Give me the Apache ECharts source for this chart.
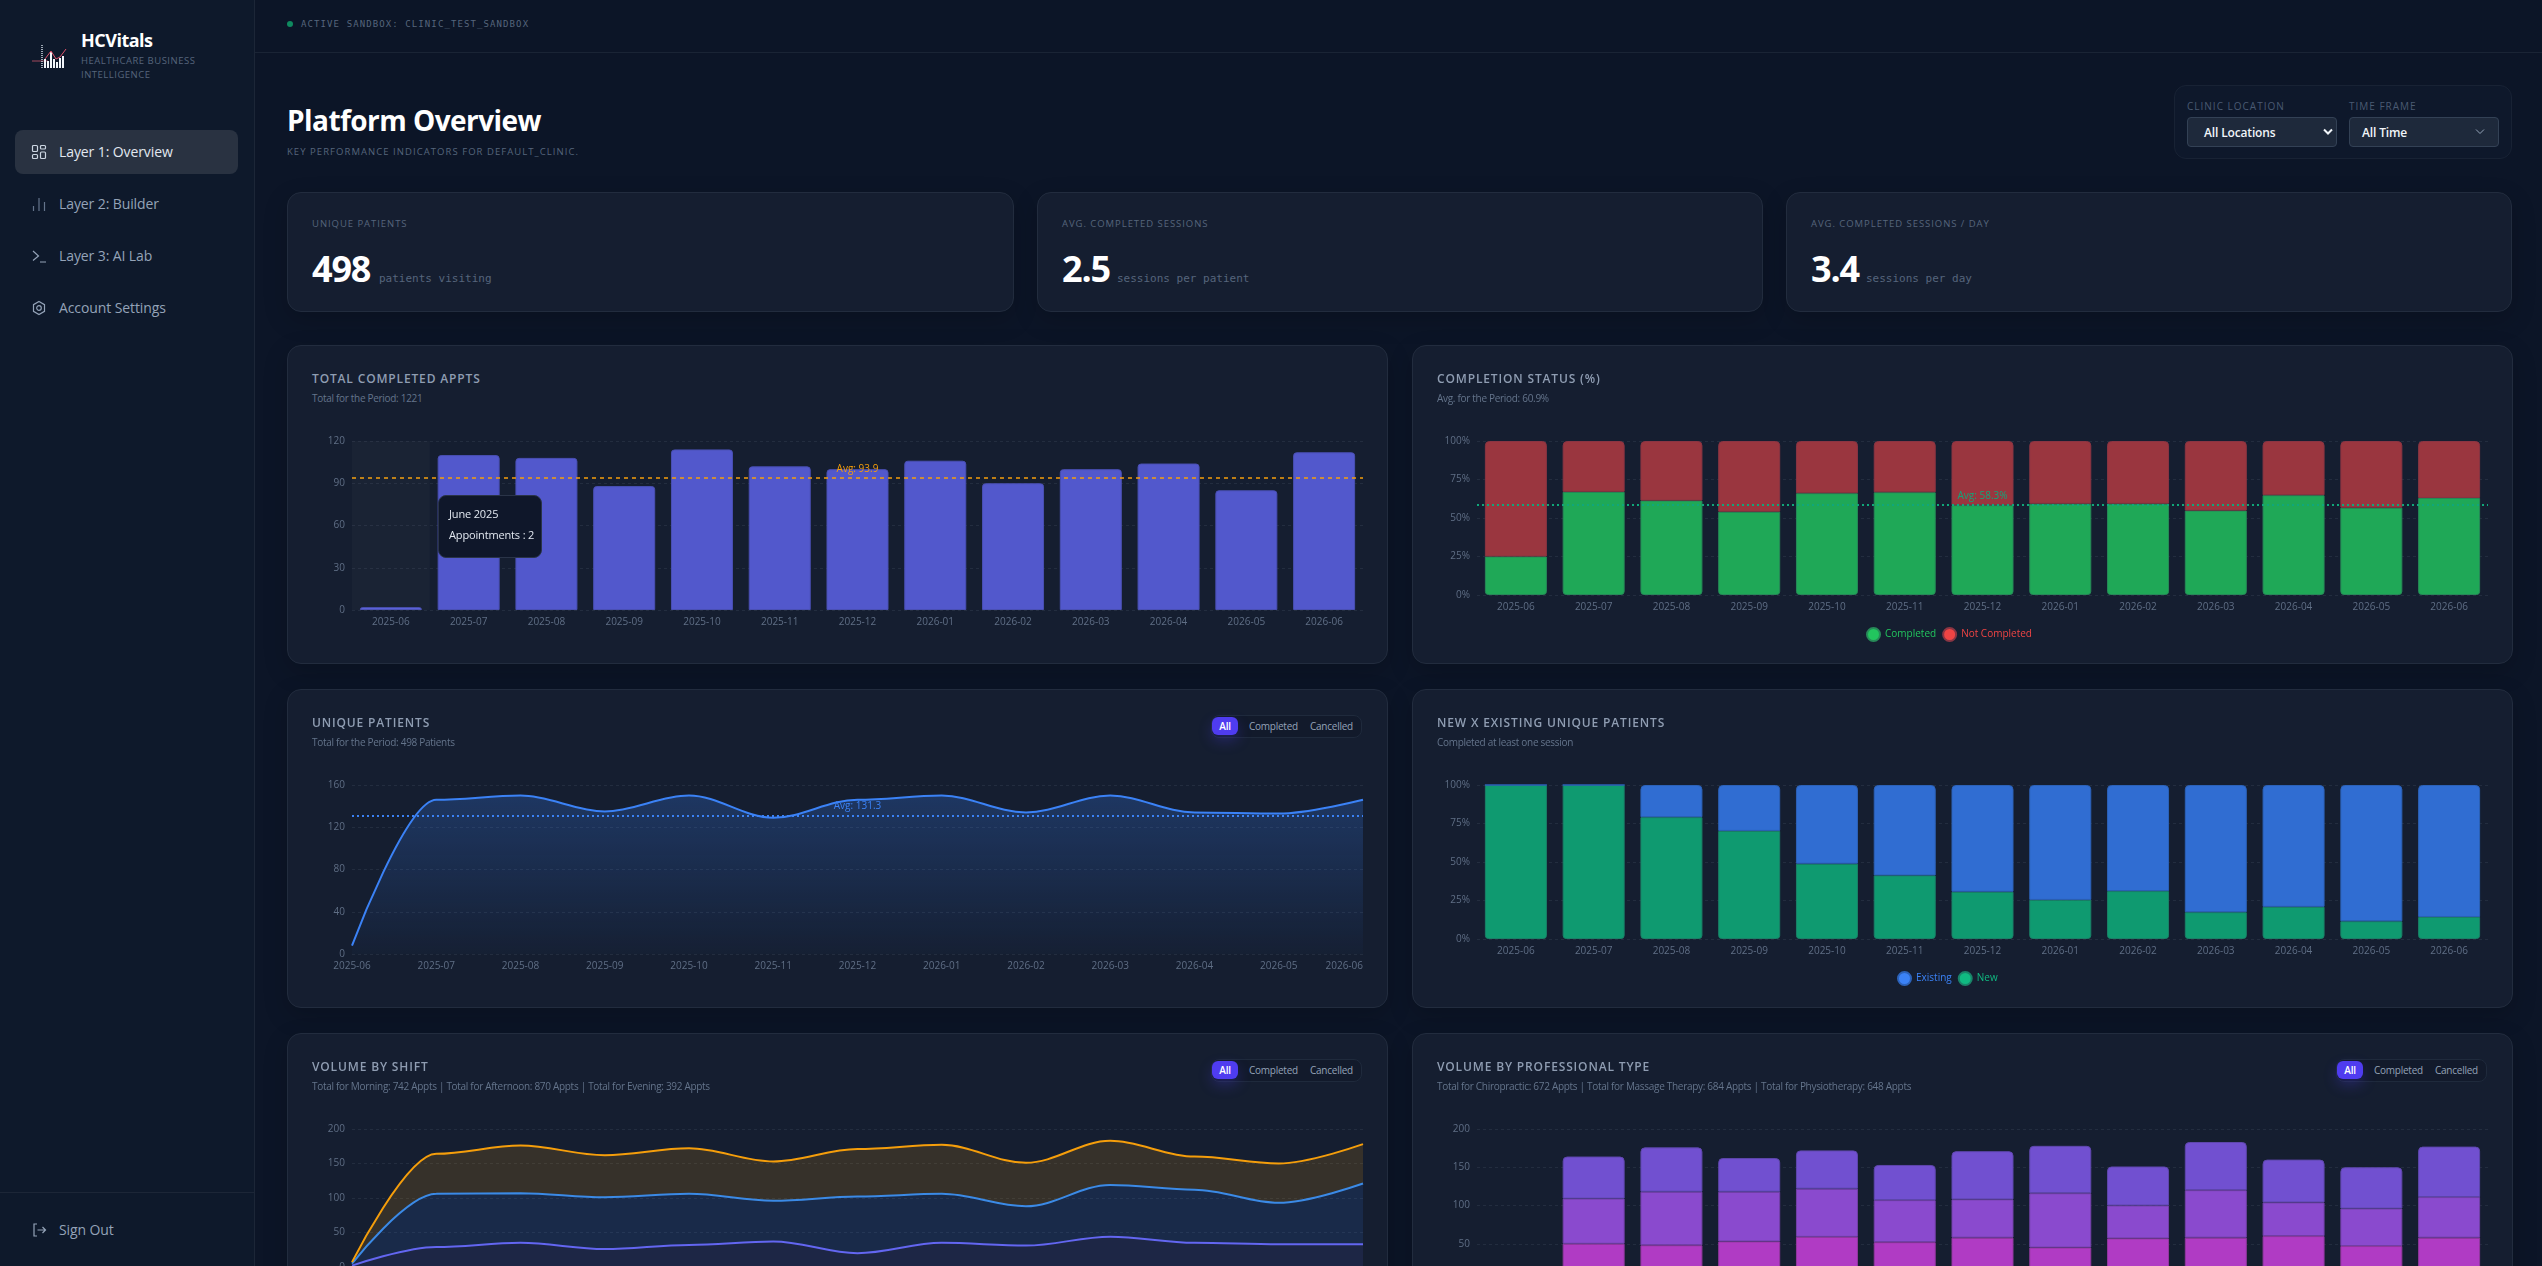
<!DOCTYPE html>
<html>
<head>
<meta charset="utf-8">
<title>HCVitals</title>
<script src="https://cdn.jsdelivr.net/npm/echarts@6/dist/echarts.min.js"></script>
<style>
  html, body { margin: 0; height: 100%; overflow: hidden; background: #0c1527; font-family: "Open Sans", sans-serif; }
  .abs { position: absolute; white-space: nowrap; }
  .mono { font-family: "DejaVu Sans Mono", monospace; }
  #page { position: relative; width: 2542px; height: 1266px; overflow: hidden; }
  #sidebar { position: absolute; left: 0; top: 0; width: 254px; height: 1266px; background: #0e192b; border-right: 1px solid #1c2637; }
  #topbar { position: absolute; left: 255px; right: 0; top: 0; height: 52px; border-bottom: 1px solid #1a2435; }
  .nav { position: absolute; left: 15px; width: 223px; height: 44px; border-radius: 8px; font-size: 14px; line-height: 44px; color: #94a3b8; letter-spacing: -.1px; }
  .nav.active { background: #293241; color: #e2e8f0; }
  .nav span { position: absolute; left: 44px; }
  .nav svg { position: absolute; left: 16px; top: 14px; }
  .kpi { position: absolute; top: 192px; height: 118px; background: #151e30; border: 1px solid #222c3e; border-radius: 14px; box-shadow: 0 8px 24px rgba(0,0,0,.18); }
  .kpi .lbl { position: absolute; left: 24px; top: 24px; font-size: 9.5px; line-height: 14px; letter-spacing: .95px; color: #56657c; white-space: nowrap; }
  .kpi .num { position: absolute; left: 24px; top: 51px; font-size: 36px; font-weight: 700; color: #fff; line-height: 50px; letter-spacing: -1.2px; }
  .kpi .unit { position: absolute; top: 79px; font-size: 11px; line-height: 14px; color: #56657c; white-space: nowrap; }
  .card { position: absolute; width: 1099px; height: 317px; background: #151e30; border: 1px solid #222c3e; border-radius: 14px; box-shadow: 0 8px 24px rgba(0,0,0,.18); }
  .card h3 { position: absolute; left: 24px; top: 24px; margin: 0; font-size: 12px; font-weight: 600; letter-spacing: .85px; color: #8f9db2; white-space: nowrap; line-height: 18px; }
  .card p { position: absolute; left: 24px; top: 45px; margin: 0; font-size: 10px; letter-spacing: -.3px; color: #64748b; white-space: nowrap; line-height: 14px; }
  .chart { position: absolute; left: 0; top: 0; width: 1099px; height: 317px; }
  .toggle { position: absolute; right: 25px; top: 25px; width: 149px; height: 21px; border: 1px solid #1f2a3c; background: #121a2b; border-radius: 8px; font-size: 10px; letter-spacing: -.25px; color: #94a3b8; line-height: 21px; z-index: 3; }
  .toggle b { position: absolute; left: 0; top: 1px; width: 26px; height: 18px; line-height: 18px; border-radius: 6px; background: #4f3cf0; color: #fff; text-align: center; font-weight: 600; box-shadow: 0 6px 14px rgba(79,60,240,.28); }
  .toggle i { position: absolute; font-style: normal; top: 0; }
  .sel { position: absolute; top: 117px; width: 148px; height: 28px; background: #1e293b; border: 1px solid #334155; border-radius: 4px; font-size: 12px; font-weight: 600; letter-spacing: -.15px; color: #f1f5f9; line-height: 30px; }
</style>
</head>
<body>
<div id="page">
  <div id="sidebar">
    <svg class="abs" style="left:32px;top:44px" width="36" height="26" viewBox="0 0 36 26">
      <path d="M0 17H16" stroke="#a1485c" stroke-width="1"/>
      <path d="M10 1V24" stroke="#cbd5e1" stroke-width="1.5" stroke-dasharray="1 1"/>
      <path d="M13 24V15M16 24V17M19 24V8M22 24V15M25 24V18M28 24V14M31 24V12" stroke="#f1f5f9" stroke-width="2"/>
      <path d="M13 15L19 7L24 15L28 13L34 5" stroke="#e0526a" stroke-width="1" fill="none"/>
    </svg>
    <div class="abs" style="left:81px;top:28px;font-size:18px;font-weight:700;color:#fff;letter-spacing:-.5px;line-height:24px">HCVitals</div>
    <div class="abs" style="left:81px;top:54px;font-size:9.5px;letter-spacing:.5px;color:#56657c;line-height:14px">HEALTHCARE BUSINESS</div>
    <div class="abs" style="left:81px;top:68px;font-size:9.5px;letter-spacing:.5px;color:#56657c;line-height:14px">INTELLIGENCE</div>

    <div class="nav active" style="top:130px">
      <svg width="16" height="16" viewBox="0 0 16 16" fill="none" stroke="#cbd5e1" stroke-width="1.2"><rect x="1.5" y="1.5" width="5" height="6" rx="1"/><rect x="9.5" y="1.5" width="5" height="3.5" rx="1"/><rect x="9.5" y="8" width="5" height="6.5" rx="1"/><rect x="1.5" y="10.5" width="5" height="4" rx="1"/></svg>
      <span>Layer 1: Overview</span>
    </div>
    <div class="nav" style="top:182px">
      <svg width="16" height="16" viewBox="0 0 16 16" fill="none" stroke="#64748b" stroke-width="1.2"><path d="M2.5 15V10M8 15V2M13.5 15V6"/></svg>
      <span>Layer 2: Builder</span>
    </div>
    <div class="nav" style="top:234px">
      <svg width="16" height="16" viewBox="0 0 16 16" fill="none" stroke="#94a3b8" stroke-width="1.2"><path d="M2 3L7.5 8L2 12.5M9 14H15"/></svg>
      <span>Layer 3: AI Lab</span>
    </div>
    <div class="nav" style="top:286px">
      <svg width="16" height="16" viewBox="0 0 16 16" fill="none" stroke="#94a3b8" stroke-width="1.2"><path d="M8 1.5L13.5 4.7V11.3L8 14.5L2.5 11.3V4.7Z"/><circle cx="8" cy="8" r="2.3"/></svg>
      <span>Account Settings</span>
    </div>

    <div class="abs" style="left:0;top:1192px;width:254px;border-top:1px solid #1c2637"></div>
    <div class="nav" style="top:1208px">
      <svg width="16" height="16" viewBox="0 0 16 16" fill="none" stroke="#94a3b8" stroke-width="1.2"><path d="M6 2H3V14H6M6.5 8H14.5M11.5 5L14.5 8L11.5 11"/></svg>
      <span>Sign Out</span>
    </div>
  </div>

  <div id="topbar"></div>
  <div class="abs" style="left:287px;top:21px;width:6px;height:6px;border-radius:50%;background:#0f8a5f"></div>
  <div class="abs mono" style="left:301px;top:18px;font-size:9px;letter-spacing:1.1px;color:#56657c;line-height:12px">ACTIVE SANDBOX: CLINIC_TEST_SANDBOX</div>

  <div class="abs" style="left:287px;top:99px;font-size:28px;font-weight:700;color:#fff;line-height:42px;letter-spacing:-.55px">Platform Overview</div>
  <div class="abs" style="left:287px;top:146px;font-size:9.5px;letter-spacing:1.05px;color:#56657c;line-height:12px">KEY PERFORMANCE INDICATORS FOR DEFAULT_CLINIC.</div>

  <div class="abs" style="left:2174px;top:85px;width:336px;height:72px;border:1px solid #182234;border-radius:12px;background:#0e182b"></div>
  <div class="abs" style="left:2187px;top:100px;font-size:10px;letter-spacing:1px;color:#4a5a72;line-height:13px">CLINIC LOCATION</div>
  <div class="abs" style="left:2349px;top:100px;font-size:10px;letter-spacing:1px;color:#4a5a72;line-height:13px">TIME FRAME</div>
  <div class="sel" style="left:2187px"><span class="abs" style="left:16px">All Locations</span>
    <svg class="abs" style="left:135px;top:10px" width="10" height="8" viewBox="0 0 10 8" fill="none" stroke="#f1f5f9" stroke-width="2"><path d="M1 1.5L5 5.5L9 1.5"/></svg></div>
  <div class="sel" style="left:2349px"><span class="abs" style="left:12px">All Time</span>
    <svg class="abs" style="left:125px;top:10px" width="10" height="8" viewBox="0 0 10 8" fill="none" stroke="#94a3b8" stroke-width="1"><path d="M1 1.5L5 5.5L9 1.5"/></svg></div>

  <div class="kpi" style="left:287px;width:725px"><div class="lbl">UNIQUE PATIENTS</div><div class="num">498</div><div class="unit mono" style="left:91px">patients visiting</div></div>
  <div class="kpi" style="left:1037px;width:724px"><div class="lbl">AVG. COMPLETED SESSIONS</div><div class="num">2.5</div><div class="unit mono" style="left:79px">sessions per patient</div></div>
  <div class="kpi" style="left:1786px;width:724px"><div class="lbl">AVG. COMPLETED SESSIONS / DAY</div><div class="num">3.4</div><div class="unit mono" style="left:79px">sessions per day</div></div>

  <div class="card" style="left:287px;top:345px"><h3>TOTAL COMPLETED APPTS</h3><p>Total for the Period: 1221</p><div class="chart" id="c1"></div></div>
  <div class="card" style="left:1412px;top:345px"><h3>COMPLETION STATUS (%)</h3><p>Avg. for the Period: 60.9%</p><div class="chart" id="c2"></div></div>
  <div class="card" style="left:287px;top:689px"><h3>UNIQUE PATIENTS</h3><p>Total for the Period: 498 Patients</p>
    <div class="toggle"><b>All</b><i style="left:37px">Completed</i><i style="left:98px">Cancelled</i></div><div class="chart" id="c3"></div></div>
  <div class="card" style="left:1412px;top:689px"><h3>NEW X EXISTING UNIQUE PATIENTS</h3><p>Completed at least one session</p><div class="chart" id="c4"></div></div>
  <div class="card" style="left:287px;top:1033px"><h3>VOLUME BY SHIFT</h3><p>Total for Morning: 742 Appts | Total for Afternoon: 870 Appts | Total for Evening: 392 Appts</p>
    <div class="toggle"><b>All</b><i style="left:37px">Completed</i><i style="left:98px">Cancelled</i></div><div class="chart" id="c5"></div></div>
  <div class="card" style="left:1412px;top:1033px"><h3>VOLUME BY PROFESSIONAL TYPE</h3><p>Total for Chiropractic: 672 Appts | Total for Massage Therapy: 684 Appts | Total for Physiotherapy: 648 Appts</p>
    <div class="toggle"><b>All</b><i style="left:37px">Completed</i><i style="left:98px">Cancelled</i></div><div class="chart" id="c6"></div></div>
</div>

<script>
const months = ['2025-06','2025-07','2025-08','2025-09','2025-10','2025-11','2025-12','2026-01','2026-02','2026-03','2026-04','2026-05','2026-06']

const completedAppts = [2,110,108,88,114,102,100,106,90,100,104,85,112]
const completionPct = [25,67,61.3,54.1,66.1,66.7,58.3,59.3,59.3,54.8,64.8,56.7,63]
const notCompletedPct = [75,33,38.7,45.9,33.9,33.3,41.7,40.7,40.7,45.2,35.2,43.3,37]
const uniquePatients = [8,146,150,135,150,129,146,150,134,150,134,133,146]
const newPct = [100,100,79.1,70.2,48.9,41.3,30.7,25.4,31.1,17.4,20.9,11.5,14.3]
const existingPct = [0,0,20.9,29.8,51.1,58.7,69.3,74.6,68.9,82.6,79.1,88.5,85.7]
const eveningShift = [2,29,35,26,32,37,20,35,31,44,35,33,33]
const afternoonShift = [3,77,72,75,74,59,82,71,57,75,77,60,88]
const morningShift = [2,58,69,61,66,57,69,71,63,64,48,57,57]
const physio = [3,50,48,53,59,52,58,45,57,58,60,47,58]
const massage = [0,59,70,65,63,55,50,71,43,62,44,49,53]
const chiro = [4,55,58,44,50,46,63,62,51,63,56,54,66]

const avgAppts = 93.9
const avgCompletion = 58.3
const avgPatients = 131.3

const tickColor = '#5f6e85'
const gridLine = {lineStyle: {color: '#232d3f', type: [3, 3]}}

function baseAxes(gridHeight, maxY, step, pct, boundary) {
    return {
        grid: {left: 64, top: 95, width: 1011, height: gridHeight},
        xAxis: {
            type: 'category',
            data: months,
            boundaryGap: boundary,
            axisLine: {show: false},
            axisTick: {show: false},
            axisLabel: {color: tickColor, fontSize: 10, margin: 7, interval: 0, alignMaxLabel: boundary ? null : 'right', fontFamily: 'Open Sans'}
        },
        yAxis: {
            type: 'value',
            min: 0,
            max: maxY,
            interval: step,
            axisLine: {show: false},
            axisTick: {show: false},
            splitLine: gridLine,
            axisLabel: {color: tickColor, fontSize: 10, margin: 7, padding: [4, 0, 0, 0], fontFamily: 'Open Sans', formatter: pct ? '{value}%' : '{value}'}
        }
    }
}

function avgLine(value, text, color, dash, width) {
    return {
        silent: true,
        symbol: 'none',
        animation: false,
        lineStyle: {color: color, type: dash, width: width},
        label: {position: 'middle', formatter: text, color: color, fontSize: 10, fontFamily: 'Open Sans', distance: 4},
        data: [{yAxis: value}]
    }
}

function legend(left, names, colors) {
    return {
        bottom: 16,
        left: left,
        icon: 'circle',
        itemWidth: 13,
        itemHeight: 13,
        itemGap: 6,
        data: names.map((n, i) => ({name: n, itemStyle: {color: colors[i]}, textStyle: {color: colors[i], fontSize: 10, fontFamily: 'Open Sans'}}))
    }
}

function stackBar(name, values, color, border, radius, extra) {
    return Object.assign({
        name: name,
        type: 'bar',
        stack: 's',
        data: values,
        barWidth: 62,
        animation: false,
        itemStyle: {color: color, borderColor: border, borderWidth: 1, borderRadius: radius}
    }, extra)
}

function areaSeries(name, values, color, fill) {
    return {
        name: name,
        type: 'line',
        stack: 'a',
        data: values,
        smooth: 0.35,
        smoothMonotone: 'x',
        showSymbol: false,
        animation: false,
        lineStyle: {color: color, width: 2},
        areaStyle: {color: fill}
    }
}

// Total completed appts
let c1 = echarts.init(document.getElementById('c1'))
c1.setOption(Object.assign(baseAxes(169, 120, 30, false, true), {
    tooltip: {
        trigger: 'axis',
        alwaysShowContent: true,
        transitionDuration: 0,
        axisPointer: {type: 'shadow', shadowStyle: {color: 'rgba(255,255,255,0.022)'}},
        position: [150, 149],
        backgroundColor: '#0f172a',
        borderColor: '#2a3448',
        borderWidth: 1,
        padding: 0,
        extraCssText: 'width:102px;height:61px;border-radius:8px;box-shadow:none;',
        formatter: () => '<div style="padding:7px 0 0 10px;font:11px/21px Open Sans;letter-spacing:-.15px;color:#e2e8f0">June 2025<br>Appointments : ' + completedAppts[0] + '</div>'
    },
    series: [{
        type: 'bar',
        data: completedAppts,
        barWidth: 62,
        animation: false,
        itemStyle: {color: '#5258cc', borderColor: '#4a50b4', borderWidth: 1, borderRadius: [3, 3, 0, 0]},
        markLine: avgLine(avgAppts, 'Avg: ' + avgAppts, '#f59e0b', [4, 4], 1.5)
    }]
}))
c1.dispatchAction({type: 'showTip', seriesIndex: 0, dataIndex: 0})

// Completion status
let c2 = echarts.init(document.getElementById('c2'))
c2.setOption(Object.assign(baseAxes(154, 100, 25, true, true), {
    legend: legend(448, ['Completed', 'Not Completed'], ['#22c55e', '#ef4444']),
    series: [
        stackBar('Completed', completionPct, '#1fa857', '#278a58', [0, 0, 3, 3], {
            markLine: avgLine(avgCompletion, 'Avg: ' + avgCompletion + '%', '#10a77a', [2, 3], 2)
        }),
        stackBar('Not Completed', notCompletedPct, '#9a363f', '#8a3543', [4, 4, 0, 0])
    ]
}))

// Unique patients
let c3 = echarts.init(document.getElementById('c3'))
let c3Series = areaSeries('Unique Patients', uniquePatients, '#3b82f6', {
    type: 'linear', x: 0, y: 0, x2: 0, y2: 1,
    colorStops: [{offset: 0, color: 'rgba(59,130,246,0.36)'}, {offset: 1, color: 'rgba(59,130,246,0.03)'}]
})
c3Series.markLine = avgLine(avgPatients, 'Avg: ' + avgPatients, '#3b82f6', [2, 3], 2)
c3.setOption(Object.assign(baseAxes(169, 160, 40, false, false), {series: [c3Series]}))

// New x existing
let c4 = echarts.init(document.getElementById('c4'))
c4.setOption(Object.assign(baseAxes(154, 100, 25, true, true), {
    legend: legend(479, ['Existing', 'New'], ['#3b82f6', '#10b981']),
    series: [
        stackBar('New', newPct, '#0f9a70', '#1a8268', [0, 0, 3, 3]),
        stackBar('Existing', existingPct, '#306dd2', '#2c62b8', [4, 4, 0, 0])
    ]
}))

// Volume by shift
let c5 = echarts.init(document.getElementById('c5'))
c5.setOption(Object.assign(baseAxes(138, 200, 50, false, false), {
    series: [
        areaSeries('Evening', eveningShift, '#6366f1', 'rgba(99,102,241,0.16)'),
        areaSeries('Afternoon', afternoonShift, '#3b8ae6', 'rgba(59,130,246,0.18)'),
        areaSeries('Morning', morningShift, '#f59e0b', 'rgba(245,158,11,0.22)')
    ]
}))

// Volume by professional type
let c6 = echarts.init(document.getElementById('c6'))
c6.setOption(Object.assign(baseAxes(153, 200, 50, false, true), {
    series: [
        stackBar('Physiotherapy', physio, '#b03bc4', '#93389f', 0),
        stackBar('Massage Therapy', massage, '#8a4ace', '#7341a8', 0),
        stackBar('Chiropractic', chiro, '#7150d0', '#5f47ad', [4, 4, 0, 0])
    ]
}))
</script>
</body>
</html>
